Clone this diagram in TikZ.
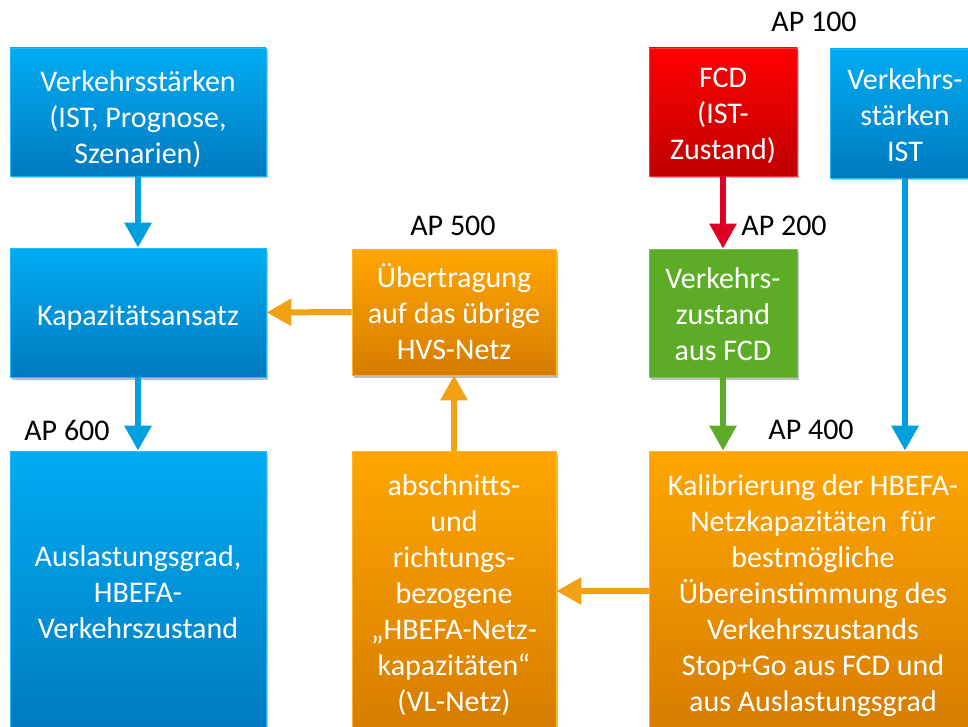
\documentclass[tikz,border=0pt]{standalone}
\usepackage{fontspec}
\setmainfont{Carlito}
\usetikzlibrary{arrows.meta,shadows}
\definecolor{bluetop}{RGB}{0,172,242}
\definecolor{bluebot}{RGB}{0,122,192}
\definecolor{blueline}{RGB}{0,160,222}
\definecolor{orangetop}{RGB}{255,166,0}
\definecolor{orangebot}{RGB}{214,124,0}
\definecolor{orangeline}{RGB}{242,160,20}
\definecolor{redtop}{RGB}{255,0,0}
\definecolor{redbot}{RGB}{192,0,0}
\definecolor{redline}{RGB}{222,0,36}
\definecolor{greenfill}{RGB}{92,172,40}
\newcommand{\boxtext}[2][3pt]{\raisebox{-#1}[\height][\depth]{\begin{tabular}{@{}c@{}}#2\end{tabular}}}
\tikzset{
  x=1pt, y=-1pt,
  boxbase/.style={rectangle, inner sep=0pt, align=center, text=white,
    font=\fontsize{30}{36}\selectfont,
    drop shadow={shadow xshift=2pt, shadow yshift=-2.5pt, opacity=0.25, fill=black}},
  bluebox/.style={boxbase, top color=bluetop, bottom color=bluebot, draw=bluetop!85!white, line width=0.8pt},
  orangebox/.style={boxbase, top color=orangetop, bottom color=orangebot, draw=orangetop!85!white, line width=0.8pt},
  redbox/.style={boxbase, top color=redtop, bottom color=redbot, draw=redtop!80!white, line width=0.8pt},
  greenbox/.style={boxbase, fill=greenfill, draw=greenfill!80!white, line width=0.8pt},
  conn/.style={line width=6pt, -{Triangle[width=26pt,length=25pt]}},
  aplabel/.style={font=\fontsize{30}{36}\selectfont, text=black, inner sep=0pt}
}
\begin{document}
\begin{tikzpicture}
\useasboundingbox (0,0) rectangle (968,727);
\clip (0,0) rectangle (968,727);
% boxes
\node[bluebox, minimum width=256pt, minimum height=128pt] (A) at (138,112)
  {\boxtext[8.5pt]{Verkehrsstärken\\(IST, Prognose,\\Szenarien)}};
\node[bluebox, minimum width=256pt, minimum height=129pt] (B) at (138,312.5)
  {\boxtext[5.5pt]{Kapazitätsansatz}};
\node[bluebox, minimum width=256pt, minimum height=280pt] (C) at (138,591)
  {\boxtext[4pt]{Auslastungsgrad,\\HBEFA-\\Verkehrszustand}};
\node[orangebox, minimum width=204pt, minimum height=126pt] (D) at (454,312)
  {\boxtext[4pt]{Übertragung\\auf das übrige\\HVS-Netz}};
\node[orangebox, minimum width=204pt, minimum height=280pt] (E) at (454,591)
  {\boxtext[5.5pt]{abschnitts-\\und\\richtungs-\\bezogene\\„HBEFA-Netz-\\kapazitäten“\\(VL-Netz)}};
\node[redbox, minimum width=148pt, minimum height=128pt] (F) at (723,112)
  {\boxtext[4pt]{FCD\\(IST-\\Zustand)}};
\node[bluebox, minimum width=150pt, minimum height=129pt] (G) at (905,113.5)
  {\boxtext[5pt]{Verkehrs-\\stärken\\IST}};
\node[greenbox, minimum width=148pt, minimum height=128pt] (H) at (723,313)
  {\boxtext[4.5pt]{Verkehrs-\\zustand\\aus FCD}};
\node[orangebox, minimum width=328pt, minimum height=280pt] (I) at (813,591)
  {\boxtext[5pt]{Kalibrierung der HBEFA-\\Netzkapazitäten\ \ für\\bestmögliche\\Übereinstimmung des\\Verkehrszustands\\Stop+Go aus FCD und\\aus Auslastungsgrad}};
% labels
\node[aplabel] (L100) at (814,22) {AP 100};
\node[aplabel] (L200) at (784,226) {AP 200};
\node[aplabel] (L500) at (453,226) {AP 500};
\node[aplabel] (L600) at (67,430) {AP 600};
\node[aplabel] (L400) at (811,430) {AP 400};
% connectors
\draw[conn, blueline] (A.south) -- (B.north);
\draw[conn, blueline] (B.south) -- (C.north);
\draw[conn, orangeline] (D.west) -- (B.east);
\draw[conn, orangeline] (E.north) -- (D.south);
\draw[conn, redline] (F.south) -- (H.north);
\draw[conn, greenfill] (H.south) -- (H.south |- I.north);
\draw[conn, blueline] (G.south) -- (G.south |- I.north);
\draw[conn, orangeline] (I.west) -- (E.east);
\end{tikzpicture}
\end{document}
